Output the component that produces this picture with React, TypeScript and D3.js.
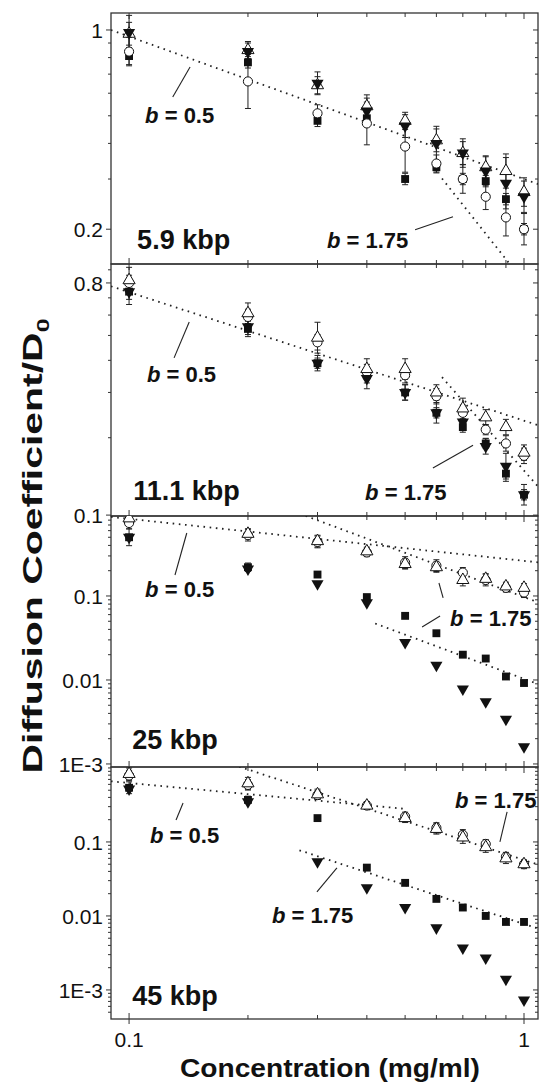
import React from 'react';
import * as d3 from 'd3';

const conc = [0.1, 0.2, 0.3, 0.4, 0.5, 0.6, 0.7, 0.8, 0.9, 1.0];

const panelNames = ['5.9 kbp', '11.1 kbp', '25 kbp', '45 kbp'];
const yDomains = [[0.151, 1.147], [0.0992, 0.948], [0.00092, 0.896], [0.000405, 1.03]];
const yTickLabels = [[1, 0.2], [0.8, 0.1], [0.1, 0.01, 0.001], [0.1, 0.01, 0.001]];

// D/D0 values, one array per symbol per panel
const kbp59Square = [0.81, 0.77, 0.48, 0.49, 0.30, 0.33, 0.30, 0.295, 0.255, 0.20];
const kbp59Circle = [0.84, 0.66, 0.51, 0.47, 0.39, 0.34, 0.30, 0.26, 0.22, 0.20];
const kbp59Up = [0.97, 0.85, 0.64, 0.54, 0.48, 0.41, 0.37, 0.33, 0.32, 0.27];
const kbp59Down = [0.98, 0.84, 0.65, 0.52, 0.46, 0.40, 0.37, 0.32, 0.29, 0.26];

const kbp111Square = [0.74, 0.53, 0.39, 0.35, 0.30, 0.25, 0.22, 0.19, 0.145, 0.12];
const kbp111Circle = [0.80, 0.59, 0.47, 0.36, 0.35, 0.29, 0.25, 0.215, 0.19, 0.17];
const kbp111Up = [0.82, 0.61, 0.49, 0.37, 0.37, 0.30, 0.26, 0.24, 0.22, 0.175];
const kbp111Down = [0.74, 0.54, 0.39, 0.34, 0.30, 0.25, 0.23, 0.185, 0.155, 0.12];

const kbp25Square = [0.50, 0.22, 0.18, 0.097, 0.058, 0.036, 0.020, 0.018, 0.011, 0.0092];
const kbp25Circle = [0.74, 0.53, 0.44, 0.33, 0.25, 0.23, 0.19, 0.155, 0.125, 0.11];
const kbp25Up = [0.84, 0.55, 0.45, 0.34, 0.24, 0.22, 0.155, 0.16, 0.13, 0.125];
const kbp25Down = [0.50, 0.21, 0.14, 0.083, 0.028, 0.015, 0.0078, 0.0055, 0.0034, 0.0016];

const kbp45Square = [0.54, 0.37, 0.21, 0.045, 0.028, 0.017, 0.013, 0.010, 0.0083, 0.0083];
const kbp45Circle = [0.79, 0.59, 0.43, 0.31, 0.22, 0.155, 0.125, 0.094, 0.063, 0.050];
const kbp45Up = [0.83, 0.62, 0.44, 0.31, 0.21, 0.15, 0.115, 0.085, 0.06, 0.05];
const kbp45Down = [0.52, 0.35, 0.054, 0.024, 0.013, 0.0069, 0.0037, 0.0027, 0.0014, 0.00073];

// error half widths, in decades
const err59Square = [0.03, 0.02, 0.02, 0.02, 0.02, 0.02, 0.02, 0.02, 0.02, 0.02];
const err59Circle = [0.05, 0.095, 0.03, 0.075, 0.09, 0.03, 0.05, 0.045, 0.065, 0.055];
const err59Up = [0.04, 0.03, 0.03, 0.04, 0.03, 0.04, 0.04, 0.04, 0.06, 0.05];
const err59Down = [0.06, 0.03, 0.04, 0.045, 0.04, 0.06, 0.05, 0.05, 0.09, 0.055];

const err111Square = [0.03, 0.03, 0.02, 0.03, 0.03, 0.02, 0.02, 0.02, 0.03, 0.02];
const err111Circle = [0.03, 0.03, 0.03, 0.03, 0.03, 0.03, 0.03, 0.02, 0.03, 0.03];
const err111Up = [0.05, 0.04, 0.06, 0.04, 0.04, 0.03, 0.04, 0.03, 0.03, 0.03];
const err111Down = [0.05, 0.03, 0.03, 0.04, 0.03, 0.04, 0.03, 0.03, 0.05, 0.04];

const err25Square = [0.1, 0.05, 0, 0, 0, 0, 0, 0, 0, 0];
const err25Circle = [0.07, 0.07, 0.07, 0.05, 0.07, 0.07, 0.06, 0.07, 0.05, 0.06];
const err25Up = [0.08, 0.06, 0.07, 0.05, 0.06, 0.06, 0.07, 0.06, 0.05, 0.05];
const err25Down = [0, 0, 0, 0, 0, 0, 0, 0, 0, 0];

const err45Square = [0.08, 0.05, 0, 0, 0, 0, 0, 0, 0, 0];
const err45Circle = [0.07, 0.07, 0.06, 0.05, 0.06, 0.07, 0.07, 0.06, 0.06, 0.05];
const err45Up = [0.08, 0.08, 0.07, 0.05, 0.06, 0.07, 0.08, 0.07, 0.07, 0.06];
const err45Down = [0, 0, 0, 0, 0, 0, 0, 0, 0, 0];

// power-law guide lines D = k * c^-b
const fits59 = [{ b: 0.5, k: 0.30, from: 0.09, to: 1.085 }, { b: 1.75, k: 0.1305, from: 0.62, to: 0.95 }];
const fits111 = [{ b: 0.5, k: 0.233, from: 0.09, to: 1.085 }, { b: 1.75, k: 0.149, from: 0.62, to: 1.085 }];
const fits25 = [{ b: 0.5, k: 0.262, from: 0.09, to: 1.085 }, { b: 1.75, k: 0.097, from: 0.28, to: 1.085 }, { b: 1.75, k: 0.0103, from: 0.42, to: 1.085 }];
const fits45 = [{ b: 0.5, k: 0.198, from: 0.09, to: 0.5 }, { b: 1.75, k: 0.057, from: 0.19, to: 1.085 }, { b: 1.75, k: 0.0078, from: 0.27, to: 1.085 }];

// annotations in data units: text start (c, d) and pointer segments
const notes59 = [
  { label: '0.5', c: 0.1098, d: 0.472, arrows: [[[0.129, 0.582], [0.1427, 0.742]]] },
  { label: '1.75', c: 0.317, d: 0.172, arrows: [[[0.530, 0.199], [0.661, 0.221]]] },
];
const notes111 = [
  { label: '0.5', c: 0.111, d: 0.330, arrows: [[[0.130, 0.409], [0.142, 0.564]]] },
  { label: '1.75', c: 0.396, d: 0.1146, arrows: [[[0.588, 0.1525], [0.743, 0.187]]] },
];
const notes25 = [
  { label: '0.5', c: 0.1098, d: 0.0973, arrows: [[[0.1307, 0.1778], [0.140, 0.562]]] },
  { label: '1.75', c: 0.650, d: 0.0439, arrows: [[[0.624, 0.0947], [0.609, 0.1428]], [[0.613, 0.0578], [0.552, 0.0427]]] },
];
const notes45 = [
  { label: '0.5', c: 0.113, d: 0.097, arrows: [[[0.1315, 0.198], [0.137, 0.336]]] },
  { label: '1.75', c: 0.669, d: 0.288, arrows: [[[0.906, 0.254], [0.869, 0.1]]] },
  { label: '1.75', c: 0.230, d: 0.00806, arrows: [[[0.299, 0.0211], [0.336, 0.0446]]] },
];
const nameAnchors = [[0.1048, 0.170], [0.1024, 0.1146], [0.1018, 0.00151], [0.1018, 0.000627]];

const panels = [
  { sq: kbp59Square, ci: kbp59Circle, up: kbp59Up, dn: kbp59Down, eSq: err59Square, eCi: err59Circle, eUp: err59Up, eDn: err59Down, fits: fits59, notes: notes59 },
  { sq: kbp111Square, ci: kbp111Circle, up: kbp111Up, dn: kbp111Down, eSq: err111Square, eCi: err111Circle, eUp: err111Up, eDn: err111Down, fits: fits111, notes: notes111 },
  { sq: kbp25Square, ci: kbp25Circle, up: kbp25Up, dn: kbp25Down, eSq: err25Square, eCi: err25Circle, eUp: err25Up, eDn: err25Down, fits: fits25, notes: notes25 },
  { sq: kbp45Square, ci: kbp45Circle, up: kbp45Up, dn: kbp45Down, eSq: err45Square, eCi: err45Circle, eUp: err45Up, eDn: err45Down, fits: fits45, notes: notes45 },
];

const W = 539;
const H = 1082;
const left = 111;
const right = 538;
const panelTops = [13, 264, 516, 767];
const panelBottoms = [264, 516, 767, 1019];
const font = 'Arial, "Liberation Sans", sans-serif';

const x = d3.scaleLog().domain([0.09, 1.085]).range([left, right]);

const squarePath = d3.symbol(d3.symbolSquare, 62)();
const circlePath = d3.symbol(d3.symbolCircle, 66)();
const triPath = d3.symbol(d3.symbolTriangle, 64)();

const fmt = (v: number) => (v === 0.001 ? '1E-3' : String(v));

const minorTicks = (lo: number, hi: number) => {
  const out: number[] = [];
  for (let e = -4; e <= 0; e++) {
    for (let m = 1; m <= 9; m++) {
      const v = m * Math.pow(10, e);
      if (v >= lo && v <= hi) out.push(+v.toPrecision(3));
    }
  }
  return out;
};

const Panel = ({ i }: { i: number }) => {
  const p = panels[i];
  const top = panelTops[i];
  const bottom = panelBottoms[i];
  const y = d3.scaleLog().domain(yDomains[i]).range([bottom, top]);
  const ticksY = minorTicks(yDomains[i][0], yDomains[i][1]);
  const majors = yTickLabels[i];
  const series = [
    { v: p.sq, e: p.eSq, kind: 'sq' },
    { v: p.ci, e: p.eCi, kind: 'ci' },
    { v: p.up, e: p.eUp, kind: 'up' },
    { v: p.dn, e: p.eDn, kind: 'dn' },
  ];
  const clipId = `clip${i}`;
  const isLast = i === panels.length - 1;
  return (
    <g>
      <defs>
        <clipPath id={clipId}>
          <rect x={left} y={top} width={right - left} height={bottom - top} />
        </clipPath>
      </defs>
      {/* frame */}
      <rect x={left} y={top} width={right - left} height={bottom - top} fill="none" stroke="#333" strokeWidth={1.3} />
      {/* y ticks */}
      {ticksY.map((t, j) => {
        const major = majors.some(m => Math.abs(m - t) / t < 1e-6);
        const len = major ? 5 : 3;
        return (
          <g key={j}>
            <line x1={left - len} x2={left} y1={y(t)} y2={y(t)} stroke="#333" strokeWidth={1} />
            <line x1={right - len} x2={right} y1={y(t)} y2={y(t)} stroke="#333" strokeWidth={1} />
          </g>
        );
      })}
      {majors.map((t, j) => (
        <text key={j} x={left - 8} y={y(t)} dy="0.36em" textAnchor="end" fontSize={21} fontFamily={font} fill="#111">
          {fmt(t)}
        </text>
      ))}
      {/* x ticks, top and bottom, pointing in */}
      {conc.map((c, j) => {
        const major = j === 0 || j === conc.length - 1;
        const len = major ? 6 : 4;
        return (
          <g key={j}>
            <line x1={x(c)} x2={x(c)} y1={top} y2={top + len} stroke="#333" strokeWidth={1} />
            <line x1={x(c)} x2={x(c)} y1={bottom} y2={bottom - len} stroke="#333" strokeWidth={1} />
            {isLast && major && <line x1={x(c)} x2={x(c)} y1={bottom} y2={bottom + 5} stroke="#333" strokeWidth={1} />}
          </g>
        );
      })}
      <g clipPath={`url(#${clipId})`}>
        {/* guide lines */}
        {p.fits.map((f, j) => (
          <line
            key={j}
            x1={x(f.from)}
            y1={y(f.k * Math.pow(f.from, -f.b))}
            x2={x(f.to)}
            y2={y(f.k * Math.pow(f.to, -f.b))}
            stroke="#222"
            strokeWidth={1.8}
            strokeDasharray="1.6 4.6"
          />
        ))}
        {/* error bars */}
        {series.map((s, k) =>
          s.v.map((d, j) => {
            const e = s.e[j];
            if (!e) return null;
            const cx = x(conc[j]);
            const y1 = y(d * Math.pow(10, -e));
            const y2 = y(d * Math.pow(10, e));
            return (
              <g key={`${k}-${j}`} stroke="#222" strokeWidth={1}>
                <line x1={cx} x2={cx} y1={y1} y2={y2} />
                <line x1={cx - 3} x2={cx + 3} y1={y1} y2={y1} />
                <line x1={cx - 3} x2={cx + 3} y1={y2} y2={y2} />
              </g>
            );
          })
        )}
        {/* symbols */}
        {series.map((s, k) =>
          s.v.map((d, j) => {
            const t = `translate(${x(conc[j])},${y(d)})`;
            if (s.kind === 'sq') return <path key={`s${k}-${j}`} d={squarePath} transform={t} fill="#111" />;
            if (s.kind === 'ci') return <path key={`s${k}-${j}`} d={circlePath} transform={t} fill="#fff" stroke="#111" strokeWidth={1} />;
            if (s.kind === 'up') return <path key={`s${k}-${j}`} d={triPath} transform={t} fill="#fff" stroke="#111" strokeWidth={1} />;
            return <path key={`s${k}-${j}`} d={triPath} transform={`${t} rotate(180)`} fill="#111" />;
          })
        )}
      </g>
      {/* annotations */}
      {p.notes.map((n, j) => (
        <g key={j}>
          <text x={x(n.c)} y={y(n.d)} fontSize={22} fontWeight="bold" fontFamily={font} fill="#111">
            <tspan fontStyle="italic">b</tspan> = {n.label}
          </text>
          {n.arrows.map((a, k) => (
            <line key={k} x1={x(a[0][0])} y1={y(a[0][1])} x2={x(a[1][0])} y2={y(a[1][1])} stroke="#222" strokeWidth={1.1} />
          ))}
        </g>
      ))}
      <text x={x(nameAnchors[i][0])} y={y(nameAnchors[i][1])} fontSize={27} fontWeight="bold" fontFamily={font} fill="#111">
        {panelNames[i]}
      </text>
    </g>
  );
};

export default function App() {
  const lastBottom = panelBottoms[panelBottoms.length - 1];
  return (
    <svg width={W} height={H} style={{ position: 'absolute', left: 0, top: 0, background: '#fff' }}>
      <rect width={W} height={H} fill="#fff" />
      {panels.map((_, i) => (
        <Panel key={i} i={i} />
      ))}
      {[0.1, 1].map(c => (
        <text key={c} x={x(c)} y={lastBottom + 28} textAnchor="middle" fontSize={21} fontFamily={font} fill="#111">
          {c}
        </text>
      ))}
      <text x={330} y={1077} textAnchor="middle" fontSize={25} fontWeight="bold" fontFamily={font} fill="#111" textLength={300} lengthAdjust="spacingAndGlyphs">
        Concentration (mg/ml)
      </text>
      <text
        transform="translate(42,546) rotate(-90)"
        textAnchor="middle"
        fontSize={28}
        fontWeight="bold"
        fontFamily={font}
        fill="#111"
        textLength={455}
        lengthAdjust="spacingAndGlyphs"
      >
        Diffusion Coefficient/D<tspan fontSize={17} dy={7}>0</tspan>
      </text>
    </svg>
  );
}
